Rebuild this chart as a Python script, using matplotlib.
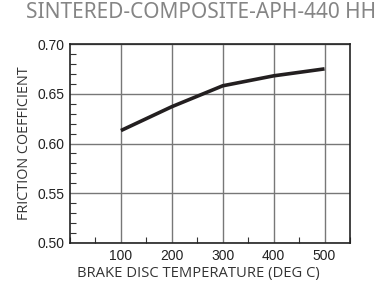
import matplotlib.pyplot as plt
from matplotlib.ticker import MultipleLocator

# data
temps = [100, 200, 300, 400, 500]
friction = [0.613, 0.637, 0.658, 0.668, 0.675]

x_ticks = [100, 200, 300, 400, 500]
y_ticks = [0.50, 0.55, 0.60, 0.65, 0.70]

fig = plt.figure(figsize=(3.92, 2.84), dpi=100)
ax = fig.add_axes([70 / 392, 1 - 243 / 284, 280 / 392, 199 / 284])

ax.plot(temps, friction, color='#231f20', linewidth=2.6, solid_capstyle='butt')

ax.set_xlim(0, 550)
ax.set_ylim(0.50, 0.70)
ax.set_xticks(x_ticks)
ax.set_yticks(y_ticks)
ax.set_yticklabels(['%.2f' % v for v in y_ticks])
ax.xaxis.set_minor_locator(MultipleLocator(50))
ax.yaxis.set_minor_locator(MultipleLocator(0.01))
ax.tick_params(which='both', direction='in', top=False, right=False, color='#333333')
ax.tick_params(which='major', length=0, labelsize=10, pad=4)
ax.tick_params(which='minor', length=4, width=0.8)
for lab in ax.get_xticklabels() + ax.get_yticklabels():
    lab.set_family('Liberation Sans')
    lab.set_color('#222222')

ax.grid(True, which='major', color='#777777', linewidth=1.0)
for s in ax.spines.values():
    s.set_color('#222222')
    s.set_linewidth(1.2)

ax.set_xlabel('BRAKE DISC TEMPERATURE (DEG C)', family='Open Sans', fontsize=10.6,
              color='#333333')
ax.xaxis.set_label_coords(128 / 280, -23 / 199)
ax.set_ylabel('FRICTION COEFFICIENT', family='Open Sans', fontsize=10.4,
              color='#333333', labelpad=4)

fig.text(201.5 / 392, 1 - 13 / 284, 'SINTERED-COMPOSITE-APH-440 HH', ha='center',
         va='center', family='Noto Sans', fontweight='semibold', fontsize=15,
         color='#858585')

fig.savefig('out.png', dpi=100)
